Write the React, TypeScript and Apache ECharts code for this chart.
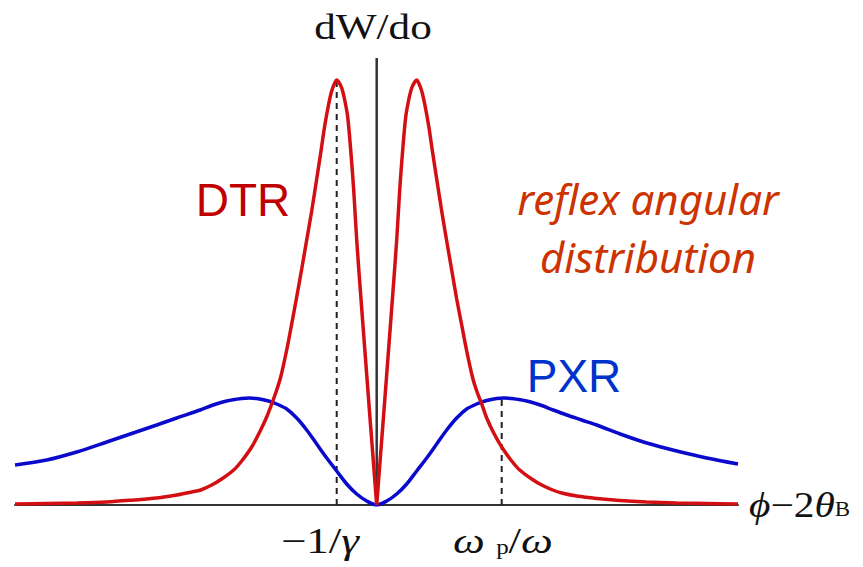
import { useEffect, useRef } from "react";
import * as echarts from "echarts";

// DTR (red) – left lobe and right lobe, [offset from centre, height]
const dtrLeft: [number, number][] = [
  [-361.7, 1], [-330, 1.5], [-300, 2], [-270, 3], [-243, 5], [-220, 7], [-200, 10],
  [-185, 13], [-176, 15], [-165, 20], [-155, 26], [-143, 35], [-135, 44], [-125, 58],
  [-117, 73], [-110, 88], [-105, 101], [-100, 115], [-96, 128], [-90, 155], [-85, 181],
  [-80, 208], [-75, 236], [-70, 265], [-65, 294], [-60, 326], [-56, 352], [-52, 379],
  [-48, 401], [-45, 414], [-42, 422], [-40, 425], [-38, 423], [-35, 417], [-32, 405],
  [-29, 388], [-26, 355], [-23, 315], [-20, 265], [-16, 210], [-12, 157], [-8, 104],
  [-4, 52], [0, 0],
];
const dtrRight: [number, number][] = [
  [0, 0], [4, 52], [8, 104], [12, 157], [16, 210], [20, 265], [23, 315], [26, 355],
  [29, 388], [32, 405], [35, 417], [38, 423], [40, 425], [42, 422], [45, 414], [48, 401],
  [52, 379], [56, 352], [60, 326], [65, 294], [70, 264], [75, 235], [80, 206], [85, 180],
  [90, 154], [96, 127], [100, 114], [105, 101], [110, 87], [117, 72], [125, 58], [135, 44],
  [143, 35], [155, 26], [165, 20], [176, 15], [185, 12], [200, 9], [220, 6.5], [243, 4.5],
  [270, 3], [300, 2], [330, 1.5], [361.3, 1],
];
// PXR (blue)
const pxr: [number, number][] = [
  [-361.7, 40], [-330, 45], [-300, 53], [-270, 63], [-243.5, 72], [-220, 80], [-200, 87],
  [-176.5, 95], [-165, 99.5], [-150, 104], [-135, 106.5], [-127, 107], [-120, 106.5],
  [-110, 104.5], [-100, 101], [-90, 96], [-80, 87], [-70, 75], [-60, 61], [-50, 47],
  [-40, 34], [-30, 21], [-20, 11], [-10, 4], [0, 0], [10, 4], [20, 11], [30, 21], [40, 34],
  [50, 47], [60, 61], [70, 75], [80, 87], [90, 96], [100, 101], [110, 104.5], [120, 106.5],
  [127, 107], [135, 106.5], [150, 104], [165, 99.5], [176.5, 95], [190, 90], [205, 85],
  [220, 80], [243.5, 71], [270, 62], [300, 54], [330, 47], [361.3, 41],
];
// guide lines
const centreLine: [number, number][] = [[0, 0], [0, 447]];
const dtrPeakLine: [number, number][] = [[-40, 0], [-40, 424]];
const pxrPeakLine: [number, number][] = [[125, 0], [125, 107]];

// texts
const yTitle = "dW/do";
const xTitle = "{i|ϕ}−2{i|θ}{s|B}";
const tickLabels = ["−1/{i|γ}", "{i|ω} {s|p}/{i|ω}"];
const seriesLabels = ["DTR", "PXR"];
const noteLines = ["reflex angular", "distribution"];

const SERIF = "'Liberation Serif', 'DejaVu Serif', serif";
const SANS = "'Liberation Sans', Arial, sans-serif";

export default function App() {
  const ref = useRef<HTMLDivElement>(null);
  useEffect(() => {
    if (!ref.current) return;
    const chart = echarts.init(ref.current, null, { renderer: "svg" });
    const richSerif = {
      i: { fontFamily: SERIF, fontStyle: "italic", fontSize: 36, fill: "#111" },
      s: { fontFamily: SERIF, fontSize: 20, fill: "#111", padding: [12, 0, 0, 0] },
    };
    chart.setOption({
      animation: false,
      backgroundColor: "#fff",
      grid: { left: 15, width: 723, top: 55, height: 450 },
      xAxis: {
        type: "value",
        min: -361.7,
        max: 361.3,
        axisLine: { show: true, lineStyle: { color: "#333", width: 2 } },
        axisTick: { show: false },
        axisLabel: { show: false },
        splitLine: { show: false },
      },
      yAxis: {
        type: "value",
        min: 0,
        max: 450,
        show: false,
      },
      series: [
        {
          type: "line", data: centreLine, symbol: "none",
          lineStyle: { color: "#333", width: 2.5 },
        },
        {
          type: "line", data: dtrPeakLine, symbol: "none",
          lineStyle: { color: "#222", width: 2, type: [6, 5] },
        },
        {
          type: "line", data: pxrPeakLine, symbol: "none",
          lineStyle: { color: "#222", width: 2, type: [6, 5] },
        },
        {
          type: "line", data: pxr, symbol: "none", smooth: 0.3,
          lineStyle: { color: "#0a0acc", width: 3.5 },
        },
        {
          type: "line", data: dtrLeft, symbol: "none", smooth: 0.3,
          lineStyle: { color: "#d40f14", width: 3.5 },
        },
        {
          type: "line", data: dtrRight, symbol: "none", smooth: 0.3,
          lineStyle: { color: "#d40f14", width: 3.5 },
        },
      ],
      graphic: [
        {
          type: "text", x: 373, y: 27, scaleX: 1.2,
          style: { text: yTitle, fontFamily: SERIF, fontSize: 36, fill: "#111", align: "center", verticalAlign: "middle" },
        },
        {
          type: "text", x: 320, y: 541, scaleX: 1.25,
          style: { text: tickLabels[0], fontFamily: SERIF, fontSize: 36, fill: "#111", align: "center", verticalAlign: "middle", rich: richSerif },
        },
        {
          type: "text", x: 503, y: 541, scaleX: 1.25,
          style: { text: tickLabels[1], fontFamily: SERIF, fontSize: 36, fill: "#111", align: "center", verticalAlign: "middle", rich: richSerif },
        },
        {
          type: "text", x: 749, y: 504, scaleX: 1.15,
          style: { text: xTitle, fontFamily: SERIF, fontSize: 36, fill: "#111", align: "left", verticalAlign: "middle", rich: richSerif },
        },
        {
          type: "text", x: 243, y: 200,
          style: { text: seriesLabels[0], fontFamily: SANS, fontSize: 46, fill: "#c00000", align: "center", verticalAlign: "middle" },
        },
        {
          type: "text", x: 574, y: 376,
          style: { text: seriesLabels[1], fontFamily: SANS, fontSize: 46, fill: "#0033cc", align: "center", verticalAlign: "middle" },
        },
        {
          type: "text", x: 648, y: 198,
          style: { text: noteLines[0], fontFamily: "'Noto Sans', sans-serif", fontStyle: "italic", fontSize: 42, fill: "#cc3300", align: "center", verticalAlign: "middle" },
        },
        {
          type: "text", x: 648, y: 256,
          style: { text: noteLines[1], fontFamily: "'Noto Sans', sans-serif", fontStyle: "italic", fontSize: 42, fill: "#cc3300", align: "center", verticalAlign: "middle" },
        },
      ],
    });
    return () => chart.dispose();
  }, []);
  return <div ref={ref} style={{ position: "fixed", left: 0, top: 0, width: 863, height: 567 }} />;
}
